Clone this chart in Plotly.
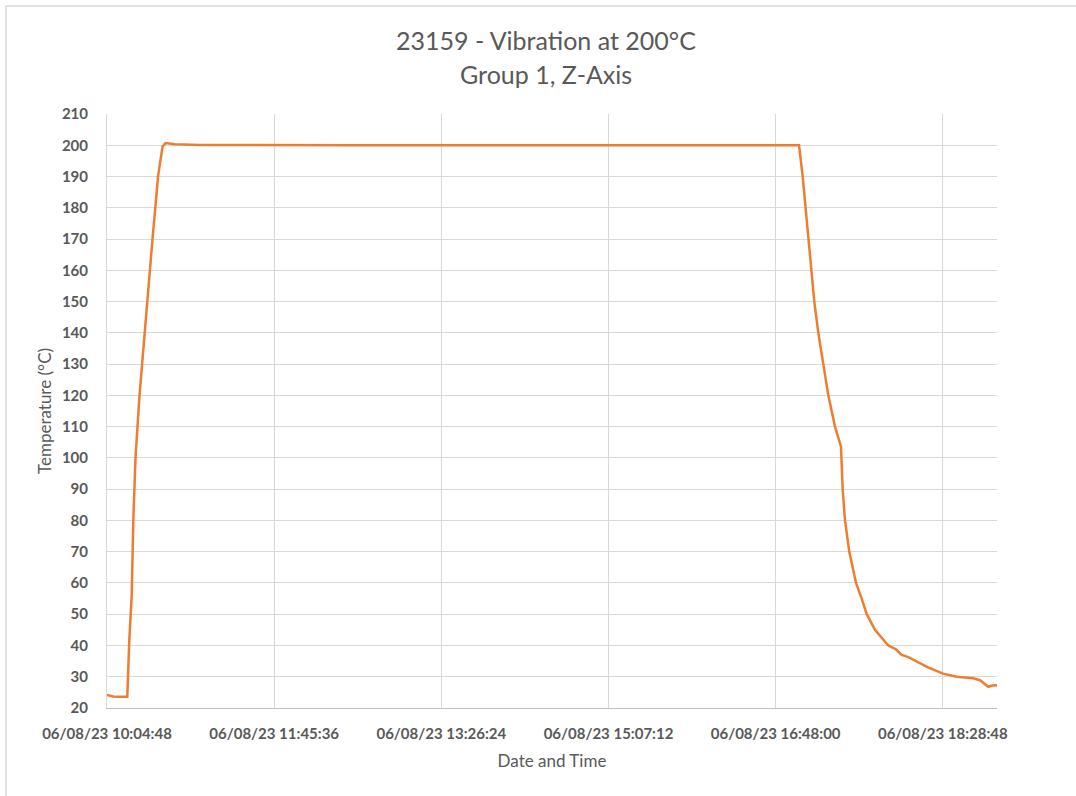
import plotly.graph_objects as go

# Logged chamber temperature, 06/08/23
times = [
    "2023-06-08 10:04:48", "2023-06-08 10:08:30", "2023-06-08 10:12:40", "2023-06-08 10:17:02",
    "2023-06-08 10:18:15", "2023-06-08 10:19:42", "2023-06-08 10:20:40", "2023-06-08 10:21:59",
    "2023-06-08 10:24:24", "2023-06-08 10:25:54", "2023-06-08 10:27:43", "2023-06-08 10:29:13",
    "2023-06-08 10:30:44", "2023-06-08 10:32:14", "2023-06-08 10:33:55", "2023-06-08 10:35:33",
    "2023-06-08 10:38:16", "2023-06-08 10:40:05", "2023-06-08 10:45:48", "2023-06-08 11:00:53",
    "2023-06-08 12:30:00", "2023-06-08 14:30:00", "2023-06-08 16:30:00", "2023-06-08 17:02:05",
    "2023-06-08 17:04:18", "2023-06-08 17:06:07", "2023-06-08 17:07:41", "2023-06-08 17:09:19",
    "2023-06-08 17:11:18", "2023-06-08 17:13:43", "2023-06-08 17:16:44", "2023-06-08 17:19:45",
    "2023-06-08 17:23:47", "2023-06-08 17:27:24", "2023-06-08 17:28:26", "2023-06-08 17:29:49",
    "2023-06-08 17:32:24", "2023-06-08 17:36:27", "2023-06-08 17:39:53", "2023-06-08 17:42:54",
    "2023-06-08 17:47:54", "2023-06-08 17:55:55", "2023-06-08 18:00:30", "2023-06-08 18:04:00",
    "2023-06-08 18:08:00", "2023-06-08 18:13:03", "2023-06-08 18:19:52", "2023-06-08 18:28:54",
    "2023-06-08 18:37:10", "2023-06-08 18:47:11", "2023-06-08 18:51:13", "2023-06-08 18:56:13",
    "2023-06-08 18:58:30", "2023-06-08 19:01:28",
]
temps = [
    24.2, 23.7, 23.6, 23.6,
    41.7, 56.0, 80.0, 100.0,
    120.0, 130.0, 140.0, 150.0,
    160.0, 170.0, 180.0, 190.0,
    199.5, 200.7, 200.3, 200.1,
    200.0, 200.0, 200.0, 200.0,
    190.0, 180.0, 170.0, 160.0,
    150.0, 140.0, 130.0, 120.0,
    110.0, 103.6, 89.7, 80.0,
    70.0, 60.0, 55.0, 50.0,
    45.0, 40.0, 38.8, 37.0,
    36.3, 35.0, 33.0, 31.0,
    30.0, 29.5, 28.9, 26.8,
    27.2, 27.3,
]

axis_start = "2023-06-08 10:04:48"
axis_end = "2023-06-08 19:01:28"
tick_step_ms = 6048000  # 1:40:48 between labels

title_lines = ["23159 - Vibration at 200°C", "Group 1, Z-Axis"]
x_title = "Date and Time"
y_title = "Temperature (°C)"

FONT = "Lato, 'Open Sans', sans-serif"
TEXT = "#595959"
GRID = "#D9D9D9"

fig = go.Figure(
    go.Scatter(
        x=times, y=temps, mode="lines",
        line=dict(color="#ED7D31", width=2.5),
        showlegend=False, hoverinfo="x+y",
    )
)

L, R, T, B = 107, 79, 114, 88
W, H = 1076, 796
pw, ph = W - L - R, H - T - B

def px_to_paper_x(px):
    return (px - L) / pw

def px_to_paper_y(py):
    return (H - B - py) / ph

fig.update_layout(
    width=W, height=H,
    margin=dict(l=L, r=R, t=T, b=B, pad=0),
    paper_bgcolor="white", plot_bgcolor="white",
    font=dict(family=FONT, color=TEXT),
    xaxis=dict(
        type="date", range=[axis_start, axis_end],
        tick0=axis_start, dtick=tick_step_ms,
        tickformat="%m/%d/%y %H:%M:%S",
        showgrid=True, gridcolor=GRID, gridwidth=1,
        showline=True, linecolor="#BFBFBF", linewidth=1,
        zeroline=False, ticks="", ticklabelstandoff=12,
        tickfont=dict(size=15, color=TEXT, family=FONT, weight="bold"),
        title=dict(text=x_title, font=dict(size=17, color=TEXT), standoff=14),
    ),
    yaxis=dict(
        range=[20, 210], dtick=10, tick0=20,
        showgrid=True, gridcolor=GRID, gridwidth=1,
        showline=True, linecolor="#D9D9D9", linewidth=1,
        zeroline=False, ticks="", ticklabelstandoff=15,
        tickfont=dict(size=15, color=TEXT, family=FONT, weight="bold"),
        title=dict(text=y_title, font=dict(size=17, color=TEXT), standoff=5),
    ),
    annotations=[
        dict(text=title_lines[0], xref="paper", yref="paper",
             x=px_to_paper_x(546), y=px_to_paper_y(40), xanchor="center", yanchor="middle",
             showarrow=False, font=dict(size=25, color=TEXT, family=FONT)),
        dict(text=title_lines[1], xref="paper", yref="paper",
             x=px_to_paper_x(546), y=px_to_paper_y(74), xanchor="center", yanchor="middle",
             showarrow=False, font=dict(size=25, color=TEXT, family=FONT)),
    ],
    shapes=[
        dict(type="rect", xref="paper", yref="paper",
             x0=px_to_paper_x(6), y0=px_to_paper_y(820),
             x1=px_to_paper_x(1100), y1=px_to_paper_y(6),
             line=dict(color="#D9D9D9", width=1.5), fillcolor="rgba(0,0,0,0)",
             layer="below"),
    ],
)

fig.write_html("out.html")
